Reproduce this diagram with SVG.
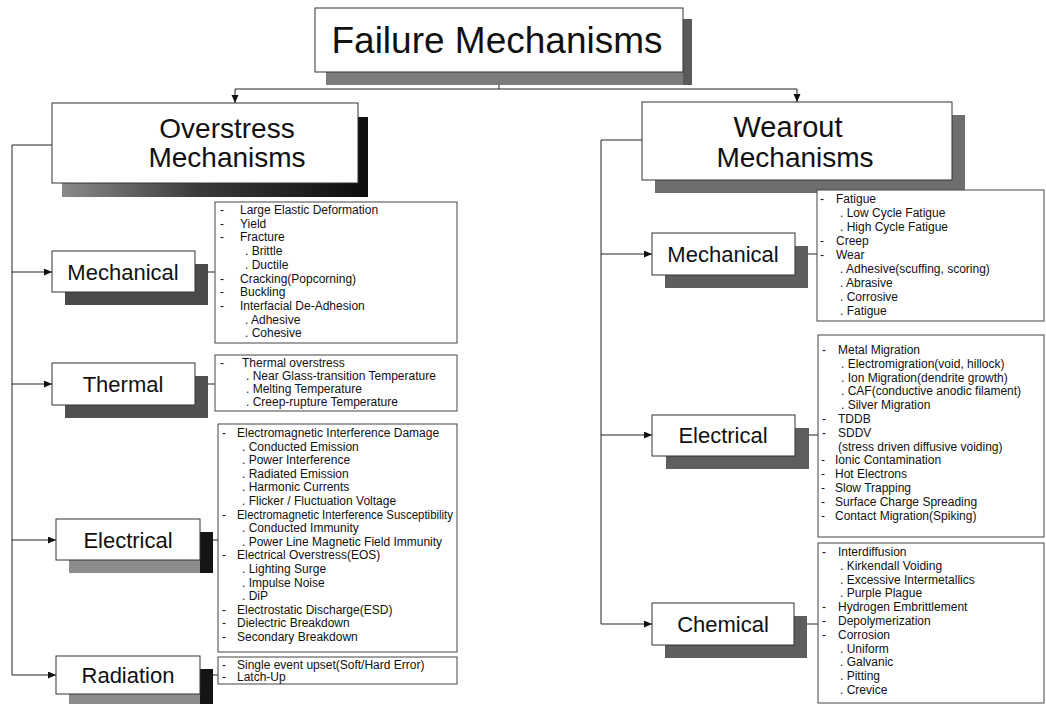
<svg xmlns="http://www.w3.org/2000/svg" width="1046" height="704" viewBox="0 0 1046 704">
<defs>
<marker id="ah" markerUnits="userSpaceOnUse" markerWidth="9" markerHeight="8" refX="8" refY="3.5" orient="auto">
<path d="M0,0 L8,3.5 L0,7 z" fill="#111"/>
</marker>
<linearGradient id="gOver" x1="0" y1="0" x2="1" y2="0">
<stop offset="0" stop-color="#8a8a8a"/>
<stop offset="0.45" stop-color="#3a3a3a"/>
<stop offset="1" stop-color="#0d0d0d"/>
</linearGradient>
<style>
.box{fill:#fff;stroke:#333;stroke-width:1}
.lst{fill:#fff;stroke:#444;stroke-width:1}
.sh{fill:#5e5e5e}
.shl{fill:#8c8c8c}
.shd{fill:#151515}
.ln{fill:none;stroke:#222;stroke-width:1}
.arr{marker-end:url(#ah)}
.big{font-family:"Liberation Sans",Arial,sans-serif;fill:#111;text-anchor:middle}
.lbl{font-family:"Liberation Sans",Arial,sans-serif;font-size:22px;fill:#111;text-anchor:middle}
.it{font-family:"Liberation Sans",Arial,sans-serif;font-size:12px;fill:#111}
</style>
</defs>

<g id="connectors">
<path class="ln" d="M499,72 V89"/>
<path class="ln" d="M235,89 H797"/>
<path class="ln arr" d="M235,89 V103"/>
<path class="ln arr" d="M797,89 V102"/>
<path class="ln" d="M52,145 H12 V675"/>
<path class="ln arr" d="M12,272 H52"/>
<path class="ln arr" d="M12,384 H52"/>
<path class="ln arr" d="M12,540 H56"/>
<path class="ln arr" d="M12,675 H56"/>
<path class="ln" d="M642,140 H601 V624"/>
<path class="ln arr" d="M601,254 H652"/>
<path class="ln arr" d="M601,435 H652"/>
<path class="ln arr" d="M601,624 H652"/>
<path class="ln" d="M208,272 H215"/>
<path class="ln" d="M208,384 H215"/>
<path class="ln" d="M213,540 H218"/>
<path class="ln" d="M213,675 H218"/>
<path class="ln" d="M808,254 H817"/>
<path class="ln" d="M809,435 H818"/>
<path class="ln" d="M807,624 H818"/>
</g>

<g id="title">
<rect x="326" y="19" width="366" height="66" fill="#7c7c7c"/>
<rect x="683" y="19" width="9" height="66" fill="#5a5a5a"/>
<rect class="box" x="315" y="8" width="368" height="64"/>
<text class="big" x="497" y="53" font-size="37">Failure Mechanisms</text>
</g>

<g id="overstress">
<rect x="62" y="117" width="306" height="80" fill="url(#gOver)"/>
<rect class="box" x="52" y="103" width="306" height="80"/>
<text class="big" x="227" y="138" font-size="28">Overstress</text>
<text class="big" x="227" y="167" font-size="28">Mechanisms</text>
</g>

<g id="wearout">
<rect class="sh" x="655" y="115" width="310" height="78" style="fill:#6e6e6e"/>
<rect class="box" x="642" y="102" width="310" height="78"/>
<text class="big" x="788" y="137" font-size="29">Wearout</text>
<text class="big" x="795" y="167" font-size="28">Mechanisms</text>
</g>

<g id="o-mechanical">
<rect class="sh" x="65" y="264" width="143" height="41" style="fill:#4a4a4a"/>
<rect class="box" x="52" y="251" width="143" height="41"/>
<text class="lbl" x="123" y="280">Mechanical</text>
</g>
<g id="o-mechanical-list">
<rect class="lst" x="215" y="202" width="242" height="141"/>
<text class="it"><tspan x="220" y="214">-</tspan><tspan x="240">Large Elastic Deformation</tspan></text>
<text class="it"><tspan x="220" y="227.7">-</tspan><tspan x="240">Yield</tspan></text>
<text class="it"><tspan x="220" y="241.4">-</tspan><tspan x="240">Fracture</tspan></text>
<text class="it" x="245" y="255.1">. Brittle</text>
<text class="it" x="245" y="268.8">. Ductile</text>
<text class="it"><tspan x="220" y="282.5">-</tspan><tspan x="240">Cracking(Popcorning)</tspan></text>
<text class="it"><tspan x="220" y="296.2">-</tspan><tspan x="240">Buckling</tspan></text>
<text class="it"><tspan x="220" y="309.9">-</tspan><tspan x="240">Interfacial De-Adhesion</tspan></text>
<text class="it" x="245" y="323.6">. Adhesive</text>
<text class="it" x="245" y="337.3">. Cohesive</text>
</g>

<g id="o-thermal">
<rect class="sh" x="65" y="376" width="143" height="42" style="fill:#505050"/>
<rect class="box" x="52" y="363" width="143" height="42"/>
<text class="lbl" x="123" y="392">Thermal</text>
</g>
<g id="o-thermal-list">
<rect class="lst" x="215" y="355" width="242" height="56"/>
<text class="it"><tspan x="220" y="367">-</tspan><tspan x="242">Thermal overstress</tspan></text>
<text class="it" x="246" y="380">. Near Glass-transition Temperature</text>
<text class="it" x="246" y="393">. Melting Temperature</text>
<text class="it" x="246" y="406">. Creep-rupture Temperature</text>
</g>

<g id="o-electrical">
<rect class="shl" x="69" y="532" width="144" height="41"/>
<rect class="shd" x="200" y="532" width="13" height="41"/>
<rect class="box" x="56" y="519" width="144" height="41"/>
<text class="lbl" x="128" y="548">Electrical</text>
</g>
<g id="o-electrical-list">
<rect class="lst" x="218" y="424" width="239" height="228"/>
<text class="it"><tspan x="222" y="437">-</tspan><tspan x="237">Electromagnetic Interference Damage</tspan></text>
<text class="it" x="242" y="450.6">. Conducted Emission</text>
<text class="it" x="242" y="464.2">. Power Interference</text>
<text class="it" x="242" y="477.8">. Radiated Emission</text>
<text class="it" x="242" y="491.4">. Harmonic Currents</text>
<text class="it" x="242" y="505">. Flicker / Fluctuation Voltage</text>
<text class="it"><tspan x="222" y="518.6">-</tspan><tspan x="237" textLength="216" lengthAdjust="spacingAndGlyphs">Electromagnetic Interference Susceptibility</tspan></text>
<text class="it" x="242" y="532.2">. Conducted Immunity</text>
<text class="it" x="242" y="545.8">. Power Line Magnetic Field Immunity</text>
<text class="it"><tspan x="222" y="559.4">-</tspan><tspan x="237">Electrical Overstress(EOS)</tspan></text>
<text class="it" x="242" y="573">. Lighting Surge</text>
<text class="it" x="242" y="586.6">. Impulse Noise</text>
<text class="it" x="242" y="600.2">. DiP</text>
<text class="it"><tspan x="222" y="613.8">-</tspan><tspan x="237">Electrostatic Discharge(ESD)</tspan></text>
<text class="it"><tspan x="222" y="627.4">-</tspan><tspan x="237">Dielectric Breakdown</tspan></text>
<text class="it"><tspan x="222" y="641">-</tspan><tspan x="237">Secondary Breakdown</tspan></text>
</g>

<g id="o-radiation">
<rect class="shl" x="69" y="669" width="144" height="38"/>
<rect class="shd" x="200" y="669" width="13" height="38"/>
<rect class="box" x="56" y="656" width="144" height="38"/>
<text class="lbl" x="128" y="683">Radiation</text>
</g>
<g id="o-radiation-list">
<rect class="lst" x="218" y="657" width="239" height="27"/>
<text class="it"><tspan x="222" y="669">-</tspan><tspan x="237">Single event upset(Soft/Hard Error)</tspan></text>
<text class="it"><tspan x="222" y="681">-</tspan><tspan x="237">Latch-Up</tspan></text>
</g>

<g id="w-mechanical">
<rect class="sh" x="665" y="246" width="143" height="42"/>
<rect class="box" x="652" y="233" width="143" height="42"/>
<text class="lbl" x="723" y="262">Mechanical</text>
</g>
<g id="w-mechanical-list">
<rect class="lst" x="817" y="190" width="227" height="131"/>
<text class="it"><tspan x="820" y="203">-</tspan><tspan x="836">Fatigue</tspan></text>
<text class="it" x="840" y="217">. Low Cycle Fatigue</text>
<text class="it" x="840" y="231">. High Cycle Fatigue</text>
<text class="it"><tspan x="820" y="245">-</tspan><tspan x="836">Creep</tspan></text>
<text class="it"><tspan x="820" y="259">-</tspan><tspan x="836">Wear</tspan></text>
<text class="it" x="840" y="273">. Adhesive(scuffing, scoring)</text>
<text class="it" x="840" y="287">. Abrasive</text>
<text class="it" x="840" y="301">. Corrosive</text>
<text class="it" x="840" y="315">. Fatigue</text>
</g>

<g id="w-electrical">
<rect class="sh" x="666" y="428" width="143" height="41"/>
<rect class="box" x="652" y="415" width="143" height="41"/>
<text class="lbl" x="723" y="443">Electrical</text>
</g>
<g id="w-electrical-list">
<rect class="lst" x="818" y="335" width="226" height="202"/>
<text class="it"><tspan x="822" y="354">-</tspan><tspan x="838">Metal Migration</tspan></text>
<text class="it" x="841" y="367.8">. Electromigration(void, hillock)</text>
<text class="it" x="841" y="381.6">. Ion Migration(dendrite growth)</text>
<text class="it" x="841" y="395.4">. CAF(conductive anodic filament)</text>
<text class="it" x="841" y="409.2">. Silver Migration</text>
<text class="it"><tspan x="822" y="423">-</tspan><tspan x="838">TDDB</tspan></text>
<text class="it"><tspan x="822" y="436.8">-</tspan><tspan x="838">SDDV</tspan></text>
<text class="it" x="838" y="450.6">(stress driven diffusive voiding)</text>
<text class="it"><tspan x="821" y="464.4">-</tspan><tspan x="835">Ionic Contamination</tspan></text>
<text class="it"><tspan x="821" y="478.2">-</tspan><tspan x="835">Hot Electrons</tspan></text>
<text class="it"><tspan x="821" y="492">-</tspan><tspan x="835">Slow Trapping</tspan></text>
<text class="it"><tspan x="821" y="505.8">-</tspan><tspan x="835">Surface Charge Spreading</tspan></text>
<text class="it"><tspan x="821" y="519.6">-</tspan><tspan x="835">Contact Migration(Spiking)</tspan></text>
</g>

<g id="w-chemical">
<rect class="sh" x="665" y="616" width="142" height="42"/>
<rect class="box" x="652" y="603" width="142" height="42"/>
<text class="lbl" x="723" y="632">Chemical</text>
</g>
<g id="w-chemical-list">
<rect class="lst" x="818" y="543" width="226" height="160"/>
<text class="it"><tspan x="822" y="556">-</tspan><tspan x="838">Interdiffusion</tspan></text>
<text class="it" x="840" y="569.8">. Kirkendall Voiding</text>
<text class="it" x="840" y="583.6">. Excessive Intermetallics</text>
<text class="it" x="840" y="597.4">. Purple Plague</text>
<text class="it"><tspan x="822" y="611.2">-</tspan><tspan x="838">Hydrogen Embrittlement</tspan></text>
<text class="it"><tspan x="822" y="625">-</tspan><tspan x="838">Depolymerization</tspan></text>
<text class="it"><tspan x="822" y="638.8">-</tspan><tspan x="838">Corrosion</tspan></text>
<text class="it" x="840" y="652.6">. Uniform</text>
<text class="it" x="840" y="666.4">. Galvanic</text>
<text class="it" x="840" y="680.2">. Pitting</text>
<text class="it" x="840" y="694">. Crevice</text>
</g>
</svg>
